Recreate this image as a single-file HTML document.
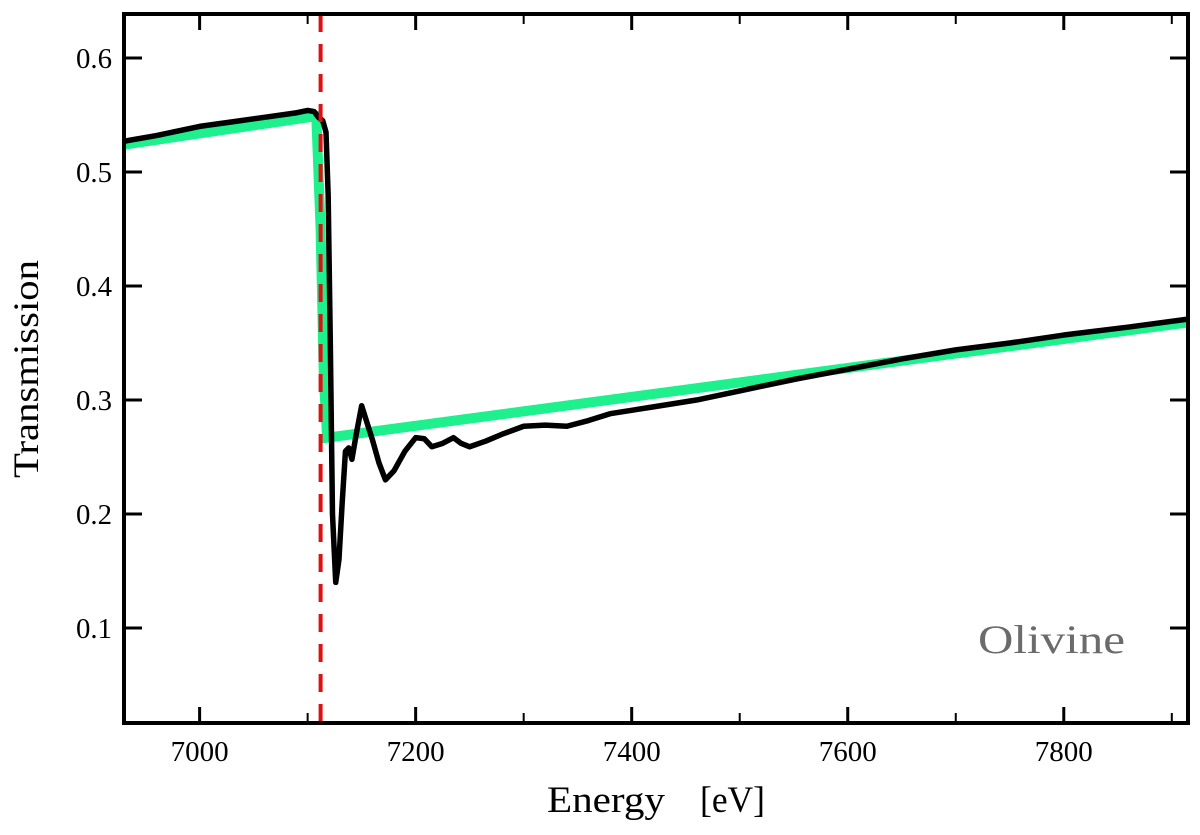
<!DOCTYPE html>
<html><head><meta charset="utf-8"><style>
body{margin:0;background:#fff}
svg text{font-family:"Liberation Serif",serif}
</style></head><body>
<svg id="chart" width="1200" height="830">
<g id="plot"></g>
</svg>
<script>
const blackE=[6930,6960,7000,7030,7060,7090,7100,7106,7110,7114,7117,7119,7121,7123,7126,7129,7132,7135,7138,7141,7145,7150,7155,7160,7166,7172,7180,7190,7200,7208,7215,7225,7235,7242,7250,7265,7280,7300,7320,7340,7360,7380,7420,7460,7500,7550,7600,7650,7700,7750,7800,7860,7915];
const blackT=[0.527,0.532,0.540,0.544,0.548,0.552,0.554,0.553,0.548,0.545,0.535,0.48,0.35,0.20,0.140,0.160,0.21,0.255,0.258,0.248,0.270,0.295,0.28,0.265,0.245,0.230,0.238,0.255,0.267,0.266,0.259,0.262,0.267,0.262,0.259,0.264,0.270,0.277,0.278,0.277,0.282,0.288,0.294,0.300,0.308,0.318,0.327,0.336,0.344,0.350,0.357,0.364,0.371];
const greenE=[6930,7108,7112,7115,7118,7915];
const greenT=[0.524,0.549,0.45,0.32,0.267,0.368];
const xTicks=[7000,7200,7400,7600,7800];
const xMinor=[7100,7300,7500,7700,7900];
const yTicks=[0.1,0.2,0.3,0.4,0.5,0.6];
const edgeE=7112;
const X0=124,X1=1188,Y0=14,Y1=723,xmin=6930,xmax=7915,ymin=0.0167,ymax=0.6386;
const sx=v=>X0+(v-xmin)/(xmax-xmin)*(X1-X0);
const sy=v=>Y1-(v-ymin)/(ymax-ymin)*(Y1-Y0);
const NS="http://www.w3.org/2000/svg",g=document.getElementById('plot');
function mk(t,a){const e=document.createElementNS(NS,t);for(const k in a)e.setAttribute(k,a[k]);g.appendChild(e);return e;}
const clip=mk('clipPath',{id:'cp'});const r=document.createElementNS(NS,'rect');r.setAttribute('x',X0);r.setAttribute('y',Y0);r.setAttribute('width',X1-X0);r.setAttribute('height',Y1-Y0);clip.appendChild(r);
let gp=greenE.map((e,i)=>sx(e)+','+sy(greenT[i])).join(' ');
let gl=mk('polyline',{points:gp,fill:'none',stroke:'#1df08c','stroke-width':10,'clip-path':'url(#cp)'});


let bp=blackE.map((e,i)=>sx(e)+','+sy(blackT[i])).join(' ');
let bl=mk('polyline',{points:bp,fill:'none',stroke:'#000','stroke-width':5.5,'stroke-linejoin':'round','clip-path':'url(#cp)'});


let rl=mk('line',{x1:sx(edgeE),x2:sx(edgeE),y1:Y0,y2:Y1,stroke:'#dd1111','stroke-width':4,'stroke-dasharray':'18,12'});


xTicks.forEach(v=>{const x=sx(v);mk('line',{x1:x,x2:x,y1:Y1,y2:Y1-16,stroke:'#000','stroke-width':3});mk('line',{x1:x,x2:x,y1:Y0,y2:Y0+16,stroke:'#000','stroke-width':3});
const t=mk('text',{x:x,y:Y1+38,'text-anchor':'middle','font-size':29,textLength:58,lengthAdjust:'spacingAndGlyphs'});t.textContent=v;

});
xMinor.forEach(v=>{const x=sx(v);if(x>X1)return;mk('line',{x1:x,x2:x,y1:Y1,y2:Y1-10,stroke:'#000','stroke-width':2});mk('line',{x1:x,x2:x,y1:Y0,y2:Y0+10,stroke:'#000','stroke-width':2});});
yTicks.forEach(v=>{const y=sy(v);mk('line',{x1:X0,x2:X0+18,y1:y,y2:y,stroke:'#000','stroke-width':3});mk('line',{x1:X1,x2:X1-18,y1:y,y2:y,stroke:'#000','stroke-width':3});
const t=mk('text',{x:X0-12,y:y+10,'text-anchor':'end','font-size':29,textLength:36,lengthAdjust:'spacingAndGlyphs'});t.textContent=v.toFixed(1);

});
let fr=mk('rect',{x:X0,y:Y0,width:X1-X0,height:Y1-Y0,fill:'none',stroke:'#000','stroke-width':4});


let xl=mk('text',{x:547,y:812,'font-size':37,textLength:118,lengthAdjust:'spacingAndGlyphs'});xl.textContent='Energy';


let xu=mk('text',{x:700,y:812,'font-size':37,textLength:65,lengthAdjust:'spacingAndGlyphs'});xu.textContent='[eV]';


let yl=mk('text',{x:-478,y:38,'font-size':36,textLength:218,lengthAdjust:'spacingAndGlyphs',transform:'rotate(-90)'});yl.textContent='Transmission';


let ol=mk('text',{x:978,y:653,'font-size':40,fill:'#6b6b6b',textLength:147,lengthAdjust:'spacingAndGlyphs'});ol.textContent='Olivine';


</script>
</body></html>
